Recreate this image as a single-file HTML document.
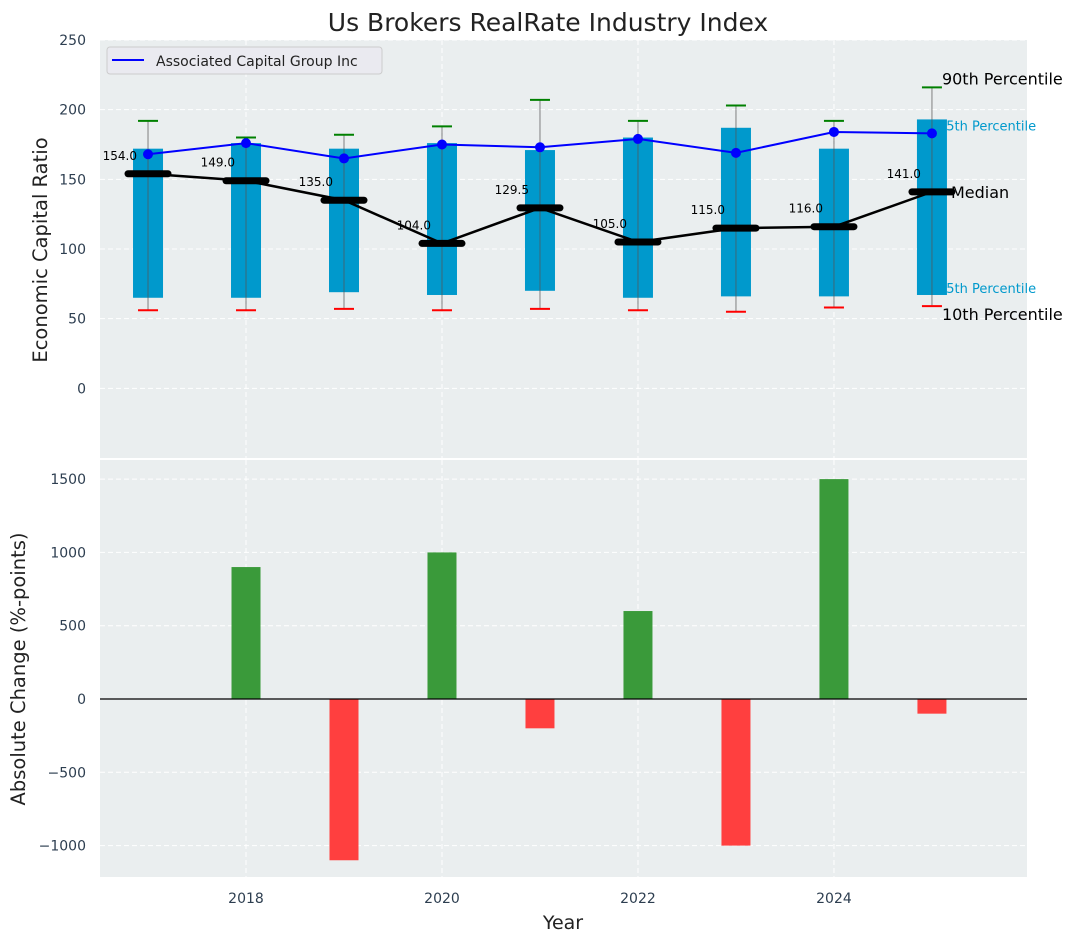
<!DOCTYPE html>
<html><head><meta charset="utf-8"><style>
body{margin:0;background:#fff;font-family:"DejaVu Sans","Liberation Sans",sans-serif;}
svg text{font-family:"DejaVu Sans","Liberation Sans",sans-serif;}
</style></head><body>
<svg id="c" width="1077" height="942" xmlns="http://www.w3.org/2000/svg"></svg>
<script>
const years=[2017,2018,2019,2020,2021,2022,2023,2024,2025];
const p10=[56,56,57,56,57,56,55,58,59];
const p25=[65,65,69,67,70,65,66,66,67];
const p75=[172,176,172,176,171,180,187,172,193];
const p90=[192,180,182,188,207,192,203,192,216];
const medians=[154,149,135,104,129.5,105,115,116,141];
const company=[168,176,165,175,173,179,169,184,183];
const changes=[0,900,-1100,1000,-200,600,-1000,1500,-100];
const topTicks=[0,50,100,150,200,250];
const botTicks=[-1000,-500,0,500,1000,1500];
const xTicks=[2018,2020,2022,2024];

const NS="http://www.w3.org/2000/svg";
const svg=document.getElementById('c');
function mk(t,a,p){const e=document.createElementNS(NS,t);for(const k in a)e.setAttribute(k,a[k]);(p||svg).appendChild(e);return e;}
const L=100,R=1027;
const xs=v=>L+(v-2016.51)*(R-L)/(2025.97-2016.51);
const yT=v=>40+(250-v)*(458-40)/300;
const yB=v=>699-v*(73.3/500);

let bg=mk('rect',{x:L,y:40,width:R-L,height:418,fill:'#eaeeef'});

let bg2=mk('rect',{x:L,y:460,width:R-L,height:417,fill:'#eaeeef'});


for(const t of topTicks){mk('line',{x1:L,x2:R,y1:yT(t),y2:yT(t),stroke:'#fff','stroke-dasharray':'5,3','stroke-width':1});
let tx=mk('text',{x:86,y:yT(t)+5,'text-anchor':'end','font-size':14,fill:'#2d3e50'});tx.textContent=t;
}
for(const t of botTicks){mk('line',{x1:L,x2:R,y1:yB(t),y2:yB(t),stroke:'#fff','stroke-dasharray':'5,3','stroke-width':1});
let tx=mk('text',{x:86,y:yB(t)+5,'text-anchor':'end','font-size':14,fill:'#2d3e50'});tx.textContent=(t<0?'\u2212'+(-t):t);
}
for(const t of xTicks){mk('line',{x1:xs(t),x2:xs(t),y1:40,y2:458,stroke:'#fff','stroke-dasharray':'5,3'});
mk('line',{x1:xs(t),x2:xs(t),y1:460,y2:877,stroke:'#fff','stroke-dasharray':'5,3'});
let tx=mk('text',{x:xs(t),y:903,'text-anchor':'middle','font-size':14,fill:'#2d3e50'});tx.textContent=t;
}

const last=years.length-1,xl=xs(years[last]);
function lab(txt,x,y,size,col,name){let t=mk('text',{x:x,y:y,'font-size':size,fill:col});t.textContent=txt;}
lab('90th Percentile',xl+10,yT(p90[last])-3,16,'#000','p90-label');
lab('75th Percentile',xl+6,yT(p75[last])+11,13,'#0099cc','p75-label');
lab('Median',xl+19,yT(medians[last])+6,16,'#000','median-label');
lab('25th Percentile',xl+6,yT(p25[last])-2,13,'#0099cc','p25-label');
lab('10th Percentile',xl+10,yT(p10[last])+14,16,'#000','p10-label');

years.forEach((yr,i)=>{const x=xs(yr);
let b=mk('rect',{x:x-15,y:yT(p75[i]),width:30,height:yT(p25[i])-yT(p75[i]),fill:'#0099cc'});

mk('line',{x1:x,x2:x,y1:yT(p90[i]),y2:yT(p10[i]),stroke:'#555','stroke-opacity':0.6,'stroke-width':1.2});
mk('line',{x1:x-10,x2:x+10,y1:yT(p90[i]),y2:yT(p90[i]),stroke:'green','stroke-width':2});
mk('line',{x1:x-10,x2:x+10,y1:yT(p10[i]),y2:yT(p10[i]),stroke:'red','stroke-width':2});
});
let mp=years.map((yr,i)=>xs(yr)+','+yT(medians[i])).join(' ');
let ml=mk('polyline',{points:mp,fill:'none',stroke:'#000','stroke-width':2.5});

years.forEach((yr,i)=>{const x=xs(yr),y=yT(medians[i]);
let m=mk('line',{x1:x-20,x2:x+20,y1:y,y2:y,stroke:'#000','stroke-width':7,'stroke-linecap':'round'});

let t=mk('text',{x:x-11,y:y-14,'text-anchor':'end','font-size':12,fill:'#000'});t.textContent=medians[i].toFixed(1);
});
let cp=years.map((yr,i)=>xs(yr)+','+yT(company[i])).join(' ');
let cl=mk('polyline',{points:cp,fill:'none',stroke:'blue','stroke-width':2});

years.forEach((yr,i)=>{let c=mk('circle',{cx:xs(yr),cy:yT(company[i]),r:5,fill:'blue'});
});

let lg=mk('g',{});
mk('rect',{x:107,y:47,width:275,height:27,rx:3,fill:'#eaeaf0',stroke:'#ccc'},lg);
mk('line',{x1:112,x2:144,y1:60,y2:60,stroke:'blue','stroke-width':2},lg);
let lt=mk('text',{x:156,y:66,'font-size':14,fill:'#222'},lg);lt.textContent='Associated Capital Group Inc';

years.forEach((yr,i)=>{const v=changes[i];if(v===0)return;const x=xs(yr);
let b=mk('rect',{x:x-14.5,y:Math.min(yB(v),yB(0)),width:29,height:Math.abs(yB(v)-yB(0)),fill:v>0?'#3a9a3a':'#ff3f3f'});
});
mk('line',{x1:L,x2:R,y1:yB(0),y2:yB(0),stroke:'#000','stroke-width':1.2});

function tt(txt,a,name){let t=mk('text',a);t.textContent=txt;}
tt('Us Brokers RealRate Industry Index',{x:548,y:31,'text-anchor':'middle','font-size':25,fill:'#222'},'chart-title');
tt('Year',{x:563,y:929,'text-anchor':'middle','font-size':19,fill:'#222'},'x-axis-title');
tt('Economic Capital Ratio',{x:47,y:250,'text-anchor':'middle','font-size':19.5,fill:'#222',transform:'rotate(-90 47 250)'},'top-y-axis-title');
tt('Absolute Change (%-points)',{x:25,y:669,'text-anchor':'middle','font-size':19.5,fill:'#222',transform:'rotate(-90 25 669)'},'bottom-y-axis-title');
</script>
</body></html>
